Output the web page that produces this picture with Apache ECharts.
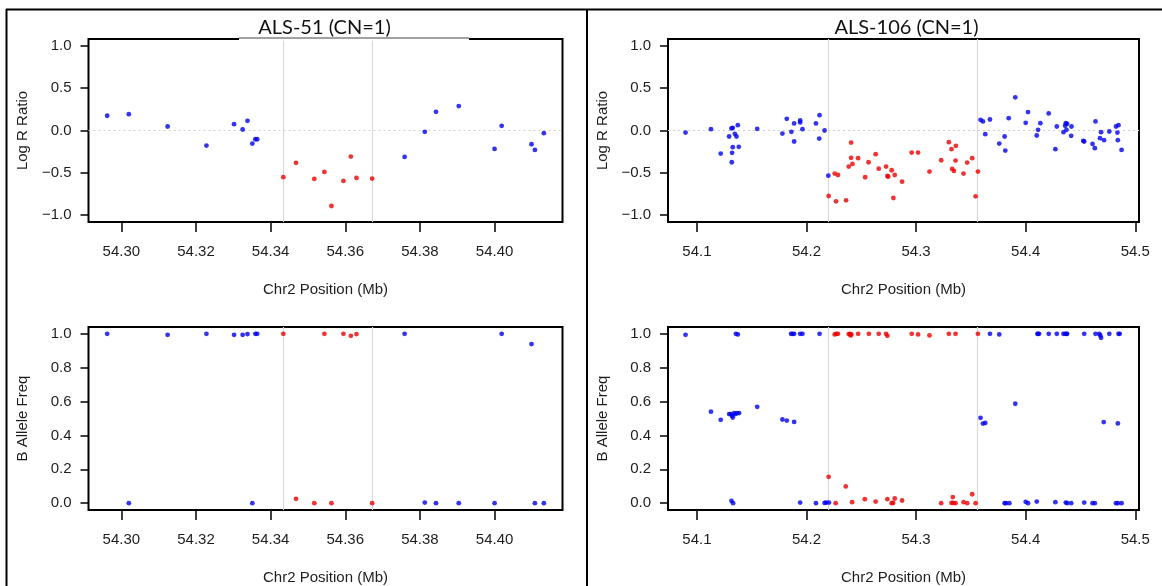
<!DOCTYPE html>
<html><head><meta charset="utf-8">
<script src="https://cdn.jsdelivr.net/npm/echarts@6/dist/echarts.min.js"></script>
<style>html,body{margin:0;padding:0;background:#fff}#c{width:1162px;height:586px}</style>
</head><body><div id="c"></div>
<script>
// ---------- data ----------
const panelTitles = ['ALS-51 (CN=1)', 'ALS-106 (CN=1)'];
const xAxisName = 'Chr2 Position (Mb)';
const lrrName = 'Log R Ratio';
const bafName = 'B Allele Freq';
const lrrTicks = [-1, -0.5, 0, 0.5, 1];
const bafTicks = [0, 0.2, 0.4, 0.6, 0.8, 1];
const leftXTicks = [54.30, 54.32, 54.34, 54.36, 54.38, 54.40];
const rightXTicks = [54.1, 54.2, 54.3, 54.4, 54.5];
const leftBounds = [54.3434, 54.3672];
const rightBounds = [54.2200, 54.3558];

const leftLrrBlue = [[54.2962,0.174],[54.3020,0.193],[54.3124,0.047],[54.3228,-0.178],[54.3302,0.075],[54.3325,0.012],[54.3338,0.114],[54.3351,-0.154],[54.3359,-0.103],[54.3364,-0.103],[54.3759,-0.312],[54.3813,-0.016],[54.3843,0.221],[54.3904,0.288],[54.4000,-0.217],[54.4019,0.055],[54.4099,-0.162],[54.4108,-0.229],[54.4132,-0.032]];
const leftLrrRed = [[54.3434,-0.551],[54.3468,-0.382],[54.3517,-0.572],[54.3544,-0.489],[54.3563,-0.891],[54.3595,-0.595],[54.3615,-0.308],[54.3630,-0.560],[54.3672,-0.568]];
const leftBafBlue = [[54.2962,1.0],[54.3020,0.0],[54.3124,0.994],[54.3228,1.0],[54.3302,0.994],[54.3325,0.994],[54.3338,0.998],[54.3351,0.0],[54.3359,1.0],[54.3364,1.0],[54.3759,1.0],[54.3813,0.004],[54.3843,0.0],[54.3904,0.0],[54.4000,0.0],[54.4019,1.0],[54.4099,0.939],[54.4108,0.0],[54.4132,0.0]];
const leftBafRed = [[54.3434,1.0],[54.3468,0.026],[54.3517,0.0],[54.3544,1.0],[54.3563,0.0],[54.3595,1.0],[54.3615,0.988],[54.3630,0.998],[54.3672,0.0]];

const rightLrrBlue = [[54.0896,-0.024],[54.1128,0.016],[54.1217,-0.272],[54.1294,-0.071],[54.1315,0.024],[54.1327,0.032],[54.1321,-0.264],[54.1318,-0.375],[54.1327,-0.197],[54.1346,-0.039],[54.1361,-0.071],[54.1373,0.063],[54.1382,-0.193],[54.1550,0.020],[54.1780,-0.036],[54.1820,0.138],[54.1862,-0.016],[54.1887,0.083],[54.1887,-0.130],[54.1942,0.118],[54.1942,0.095],[54.1963,0.016],[54.2086,0.083],[54.2116,-0.095],[54.2119,0.181],[54.2165,0.0],[54.2199,-0.533],
[54.3588,0.126],[54.3610,0.107],[54.3631,-0.043],[54.3674,0.130],[54.3759,-0.154],[54.3808,-0.071],[54.3814,-0.237],[54.3845,0.146],[54.3905,0.391],[54.4000,0.091],[54.4021,0.217],[54.4101,-0.059],[54.4113,0.008],[54.4134,0.087],[54.4210,0.201],[54.4271,-0.221],[54.4284,0.047],[54.4345,-0.020],[54.4360,0.055],[54.4366,0.087],[54.4372,0.008],[54.4378,0.079],[54.4415,-0.063],[54.4418,0.047],[54.4525,-0.122],[54.4534,-0.130],[54.4610,-0.158],[54.4631,-0.209],[54.4637,0.107],[54.4678,-0.091],[54.4688,-0.020],[54.4715,-0.114],[54.4763,-0.012],[54.4824,0.047],[54.4837,-0.024],[54.4841,-0.114],[54.4847,0.063],[54.4875,-0.229]];
const rightLrrRed = [[54.2202,-0.773],[54.2257,-0.509],[54.2287,-0.525],[54.2269,-0.836],[54.2361,-0.824],[54.2407,-0.142],[54.2407,-0.323],[54.2419,-0.394],[54.2385,-0.426],[54.2471,-0.327],[54.2535,-0.552],[54.2566,-0.375],[54.2631,-0.280],[54.2659,-0.450],[54.2726,-0.426],[54.2738,-0.536],[54.2745,-0.545],[54.2777,-0.469],[54.2805,-0.525],[54.2793,-0.797],[54.2872,-0.604],[54.2960,-0.260],[54.3018,-0.260],[54.3122,-0.485],[54.3229,-0.351],[54.3299,-0.138],[54.3323,-0.221],[54.3363,-0.181],[54.3360,-0.355],[54.3329,-0.454],[54.3345,-0.477],[54.3433,-0.509],[54.3466,-0.379],[54.3512,-0.327],[54.3543,-0.777],[54.3564,-0.485]];
const rightBafBlue = [[54.0896,0.994],[54.1128,0.540],[54.1217,0.492],[54.1294,0.526],[54.1309,0.526],[54.1321,0.516],[54.1327,0.506],[54.1340,0.532],[54.1352,0.526],[54.1367,0.532],[54.1385,0.532],[54.1315,0.014],[54.1330,0.0],[54.1355,1.0],[54.1373,0.996],[54.1550,0.569],[54.1780,0.494],[54.1820,0.488],[54.1859,1.0],[54.1872,1.0],[54.1887,1.0],[54.1887,0.480],[54.1942,1.0],[54.1963,1.0],[54.1942,0.004],[54.2086,0.0],[54.2119,1.0],[54.2165,0.002],[54.2180,0.004],[54.2205,0.004],
[54.3588,0.504],[54.3610,0.470],[54.3631,0.474],[54.3674,1.0],[54.3759,0.996],[54.3808,0.0],[54.3820,0.0],[54.3851,0.0],[54.3905,0.587],[54.4000,0.008],[54.4021,0.0],[54.4101,0.010],[54.4107,1.0],[54.4113,1.0],[54.4122,1.0],[54.4210,1.0],[54.4271,0.006],[54.4284,1.0],[54.4345,1.0],[54.4360,1.0],[54.4372,1.0],[54.4378,1.0],[54.4366,0.004],[54.4378,0.0],[54.4415,0.0],[54.4534,1.0],[54.4534,0.004],[54.4610,0.0],[54.4631,0.0],[54.4637,1.0],[54.4671,1.0],[54.4681,0.99],[54.4688,0.976],[54.4712,0.479],[54.4763,1.0],[54.4824,0.0],[54.4841,0.0],[54.4875,0.0],[54.4847,1.0],[54.4858,1.0],[54.4841,0.471]];
const rightBafRed = [[54.2202,0.156],[54.2257,0.996],[54.2272,1.0],[54.2287,1.0],[54.2266,0.0],[54.2358,0.099],[54.2385,0.998],[54.2397,1.0],[54.2403,0.990],[54.2409,0.996],[54.2416,0.006],[54.2471,1.0],[54.2532,0.024],[54.2569,1.0],[54.2631,0.010],[54.2659,1.0],[54.2726,1.0],[54.2738,0.988],[54.2738,0.024],[54.2777,0.0],[54.2790,0.002],[54.2805,0.028],[54.2872,0.016],[54.2960,1.0],[54.3018,0.996],[54.3122,0.990],[54.3229,0.0],[54.3299,1.0],[54.3360,1.0],[54.3335,0.036],[54.3323,0.002],[54.3339,0.002],[54.3360,0.0],[54.3433,0.006],[54.3466,0.0],[54.3512,0.053],[54.3543,0.0],[54.3564,1.0]];

// ---------- chart ----------
const BLUE = '#0000ee', RED = '#ee0000';
const FONT = "'Liberation Sans', Arial, sans-serif";
const TXT = '#1e1e1e';
const chart = echarts.init(document.getElementById('c'), null, {renderer: 'canvas'});

const grids = [
  {left: 88.5, top: 39, width: 474, height: 183},
  {left: 668, top: 39, width: 471, height: 183},
  {left: 88.5, top: 327, width: 474, height: 184},
  {left: 668, top: 327, width: 471, height: 184}
].map(g => Object.assign(g, {show: true, borderColor: '#000', borderWidth: 2, backgroundColor: 'transparent', containLabel: false}));

function xAx(i, min, max, ticks, dec) {
  return {
    type: 'value', gridIndex: i, min: min, max: max, position: 'bottom',
    name: xAxisName, nameLocation: 'middle', nameGap: 60,
    nameTextStyle: {fontFamily: FONT, fontSize: 15, color: TXT},
    axisLine: {show: false, onZero: false}, splitLine: {show: false},
    axisTick: {show: true, length: 10, customValues: ticks, lineStyle: {color: '#000', width: 1.5}},
    axisLabel: {show: true, customValues: ticks, margin: 22, fontFamily: FONT, fontSize: 15, color: TXT,
      formatter: v => v.toFixed(dec)}
  };
}
function yAx(i, min, max, ticks, name) {
  return {
    type: 'value', gridIndex: i, min: min, max: max, position: 'left',
    name: name, nameLocation: 'middle', nameGap: 58, nameRotate: 90,
    nameTextStyle: {fontFamily: FONT, fontSize: 15, color: TXT},
    axisLine: {show: false, onZero: false}, splitLine: {show: false},
    axisTick: {show: true, length: 8, customValues: ticks, lineStyle: {color: '#000', width: 1.5}},
    axisLabel: {show: true, customValues: ticks, margin: 17, fontFamily: FONT, fontSize: 15, color: TXT,
      formatter: v => v.toFixed(1).replace('-', '\u2212')}
  };
}

function pts(name, data, i, color, marks) {
  const s = {
    name: name, type: 'scatter', xAxisIndex: i, yAxisIndex: i, data: data,
    symbol: 'circle', symbolSize: 4.8, itemStyle: {color: color}, silent: true, z: 5
  };
  if (marks) s.markLine = marks;
  return s;
}
function bounds(b, zeroLine) {
  const d = b.map(v => ({xAxis: v, lineStyle: {color: '#d9d9d9', width: 1.2, type: 'solid'}}));
  if (zeroLine) d.push({yAxis: 0, lineStyle: {color: '#cfcfcf', width: 1, type: [2, 3]}});
  return {silent: true, precision: 6, symbol: ['none', 'none'], label: {show: false}, data: d, z: 1, animation: false};
}

const option = {
  animation: false,
  backgroundColor: '#fff',
  grid: grids,
  xAxis: [
    xAx(0, 54.2912, 54.4182, leftXTicks, 2),
    xAx(1, 54.0736, 54.5034, rightXTicks, 1),
    xAx(2, 54.2912, 54.4182, leftXTicks, 2),
    xAx(3, 54.0736, 54.5034, rightXTicks, 1)
  ],
  yAxis: [
    yAx(0, -1.08, 1.08, lrrTicks, lrrName),
    yAx(1, -1.08, 1.08, lrrTicks, lrrName),
    yAx(2, -0.04, 1.04, bafTicks, bafName),
    yAx(3, -0.04, 1.04, bafTicks, bafName)
  ],
  series: [
    pts('LRR blue', leftLrrBlue, 0, BLUE, bounds(leftBounds, true)),
    pts('LRR red', leftLrrRed, 0, RED),
    pts('LRR blue', rightLrrBlue, 1, BLUE, bounds(rightBounds, true)),
    pts('LRR red', rightLrrRed, 1, RED),
    pts('BAF blue', leftBafBlue, 2, BLUE, bounds(leftBounds, false)),
    pts('BAF red', leftBafRed, 2, RED),
    pts('BAF blue', rightBafBlue, 3, BLUE, bounds(rightBounds, false)),
    pts('BAF red', rightBafRed, 3, RED)
  ],
  graphic: [
    // outer frame
    {type: 'line', z: 100, shape: {x1: 6, y1: 9.5, x2: 1162, y2: 9.5}, style: {stroke: '#000', lineWidth: 2}},
    {type: 'line', z: 100, shape: {x1: 6.5, y1: 9, x2: 6.5, y2: 586}, style: {stroke: '#000', lineWidth: 2}},
    {type: 'line', z: 100, shape: {x1: 587, y1: 9, x2: 587, y2: 586}, style: {stroke: '#000', lineWidth: 2}},
    // title box for left panel
    {type: 'rect', z: 100, shape: {x: 239, y: 12, width: 230, height: 28.5}, style: {fill: '#fff'}},
    {type: 'line', z: 101, shape: {x1: 239, y1: 38, x2: 469, y2: 38}, style: {stroke: '#444', lineWidth: 1}},
    {type: 'text', z: 102, x: 324.5, y: 28, style: {text: panelTitles[0], fontFamily: "Lato, 'Open Sans', sans-serif", fontSize: 20, fill: '#111', align: 'center', verticalAlign: 'middle'}},
    {type: 'rect', z: 100, shape: {x: 820, y: 12, width: 175, height: 25}, style: {fill: '#fff'}},
    {type: 'text', z: 102, x: 906.5, y: 28, style: {text: panelTitles[1], fontFamily: "Lato, 'Open Sans', sans-serif", fontSize: 20, fill: '#111', align: 'center', verticalAlign: 'middle'}}
  ]
};
chart.setOption(option);
</script>
</body></html>
